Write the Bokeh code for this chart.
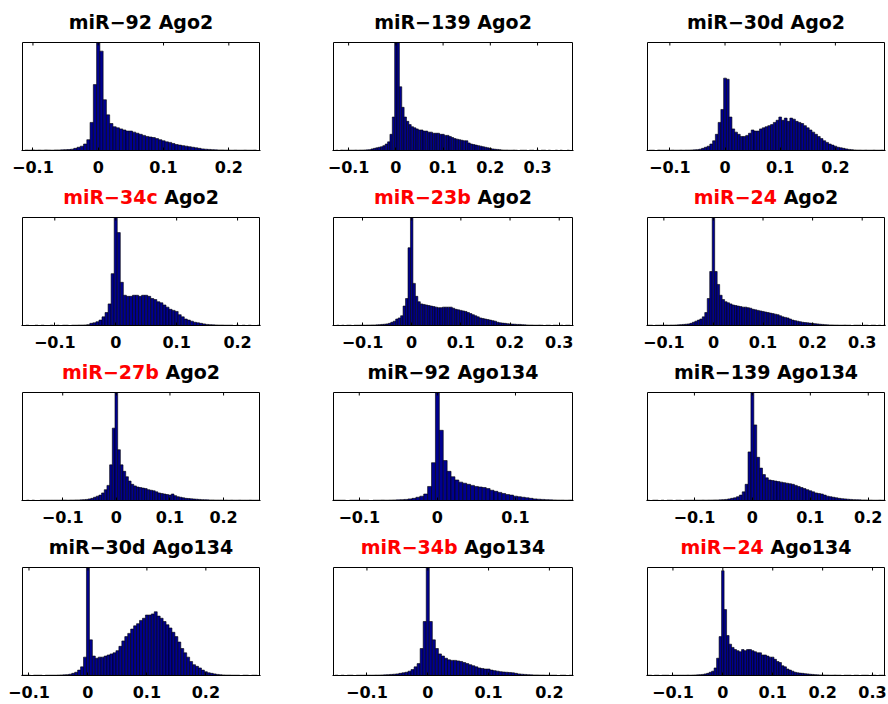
from bokeh.plotting import figure
from bokeh.models import Range1d, FixedTicker
from bokeh.core.properties import value
from bokeh.layouts import column, row
from bokeh.embed import file_html
from bokeh.resources import INLINE

# ---------------- data ----------------
TITLE_RED = ["", "", "", "miR\u221234c", "miR\u221223b", "miR\u221224",
             "miR\u221227b", "", "", "", "miR\u221234b", "miR\u221224"]
TITLE_BLACK = ["miR\u221292 Ago2", "miR\u2212139 Ago2", "miR\u221230d Ago2", "Ago2", "Ago2", "Ago2",
               "Ago2", "miR\u221292 Ago134", "miR\u2212139 Ago134", "miR\u221230d Ago134", "Ago134", "Ago134"]
XLIMS = [(-0.116, 0.247), (-0.132, 0.374), (-0.1405, 0.289),
         (-0.153, 0.236), (-0.159, 0.327), (-0.133, 0.345),
         (-0.175, 0.267), (-0.133, 0.173), (-0.181, 0.228),
         (-0.111, 0.291), (-0.155, 0.238), (-0.151, 0.324)]
TICKS = [[-0.1, 0, 0.1, 0.2], [-0.1, 0, 0.1, 0.2, 0.3], [-0.1, 0, 0.1, 0.2],
         [-0.1, 0, 0.1, 0.2], [-0.1, 0, 0.1, 0.2, 0.3], [-0.1, 0, 0.1, 0.2, 0.3],
         [-0.1, 0, 0.1, 0.2], [-0.1, 0, 0.1], [-0.1, 0, 0.1, 0.2],
         [-0.1, 0, 0.1, 0.2], [-0.1, 0, 0.1, 0.2], [-0.1, 0, 0.1, 0.2, 0.3]]
TICK_TEXT = {-0.1: "\u22120.1", 0: "0", 0.1: "0.1", 0.2: "0.2", 0.3: "0.3"}
BIN_START = [-0.110, -0.125, -0.135, -0.150, -0.155, -0.130,
             -0.170, -0.130, -0.180, -0.110, -0.150, -0.150]
BIN_WIDTH = 0.005
Y_MAX = 100

H1 = [0.4, 0.3, 0.5, 0.3, 0.4, 0.3, 0.5, 0.4, 0.3, 0.5, 0.5, 0.6, 0.8, 0.9,
      1.2, 2, 3, 4, 6, 10, 26, 61,
      100, 92, 47, 33, 25, 22, 21, 20, 19, 18,
      18, 17, 16, 15, 14, 13, 12.5, 12, 11, 10,
      9, 8, 7.5, 6.5, 5.5, 5, 4.5, 4, 3.5, 3,
      2.5, 2, 1.5, 1.2, 1,
      0.8, 0.6, 0.5, 0.5, 0.4, 0.4, 0.3, 0.4, 0.3, 0.3, 0.4, 0.3, 0.3, 0.4]
H2 = [0.3, 0, 0.4, 0.3, 0.3, 0.4, 0.3, 0.3, 0.4, 0.3, 0.4, 0.4, 0.5, 0.6, 0.8,
      1.5, 2, 2.5, 3, 3.5, 4.5, 6, 8, 15, 31,
      100, 100, 59, 40, 31, 27, 24, 22, 21, 20,
      19, 19, 18, 18, 17, 17, 16, 16, 16, 15,
      15, 14, 14, 13, 12, 11, 10.5, 10, 9.5, 9,
      9, 7, 6, 5.5, 5, 4.5, 4, 3.5, 3, 2.5,
      2, 1.5, 1.2, 1, 0.8,
      0.5, 0.4, 0.4, 0.3, 0.3, 0.4, 0.3, 0, 0.3, 0.3,
      0.3, 0, 0.3, 0.3, 0, 0.3, 0, 0.3, 0.3, 0,
      0.3, 0, 0, 0.3, 0, 0.3, 0, 0, 0.3, 0]
H3 = [0.3, 0.3, 0, 0.4, 0.3, 0.3, 0.3, 0.3, 0.4, 0.3, 0.3, 0.4, 0.3, 0.4, 0.4, 0.5, 0.6, 0.8,
      1.2, 2, 3, 4, 6, 9, 15, 26, 38,
      67, 66, 31, 20, 17, 15, 13, 13, 14, 16,
      19, 18, 18, 20, 21, 22, 23, 24, 26, 28,
      31, 28, 30, 27, 30, 29, 27, 26, 25, 23,
      21, 19, 17, 15, 13, 11, 9, 7.5, 6, 5,
      4, 3, 2.5, 2, 1.5, 1, 0.8,
      0.5, 0.4, 0.4, 0.3, 0.4, 0.3, 0.3, 0.4, 0.3, 0.3, 0.4]
H4 = [0, 0.3, 0, 0, 0.3, 0, 0.3, 0, 0, 0.3, 0, 0.3, 0, 0.3, 0.3, 0, 0.3, 0.3, 0.4, 0.4, 0.5, 0.8,
      2, 2.5, 3.5, 5, 8, 12, 20, 48,
      100, 86, 40, 28, 27, 27, 28, 28, 27, 28,
      28, 27, 25, 24, 22, 21, 19, 17, 15, 14,
      13, 10, 8, 6, 5, 4, 3, 2.5, 2, 1.5, 1,
      0.8, 0.6, 0.5, 0.4, 0.4, 0.3, 0.3, 0.3, 0, 0.3, 0, 0.3, 0, 0.3, 0, 0, 0.3]
H5 = [0, 0.3, 0, 0.3, 0, 0.3, 0.3, 0, 0.3, 0.3, 0.3, 0.4, 0.3, 0.4, 0.4, 0.5, 0.5, 0.6, 0.8, 1, 1.2,
      1.5, 2, 3, 4, 6, 7, 9, 18, 25, 72,
      100, 39, 27, 22, 20, 19.5, 19, 18.5, 18, 17.5,
      17, 16.5, 16.5, 17, 17, 17, 17, 16, 15, 14.5,
      14, 13.5, 13, 12, 11, 10, 9, 8, 7, 6.5,
      6, 5.5, 5, 4.5, 4, 3, 2.5, 2.2, 2, 1.7,
      1.5, 1.3, 1.2, 1, 1,
      0.8, 0.6, 0.5, 0.4, 0.4, 0.3, 0.3, 0.4, 0.3, 0, 0.3, 0.3, 0, 0.3, 0.3, 0, 0.3, 0, 0.3, 0.3, 0]
H6 = [0.3, 0.3, 0, 0.3, 0.3, 0.3, 0.3, 0.4, 0.3, 0.4, 0.4, 0.5, 0.6, 0.8, 1, 1.2,
      1.5, 2, 3, 4, 5, 6, 8, 12, 25, 50,
      100, 50, 38, 28, 24, 22, 21, 20, 19, 18.5,
      18, 17.5, 17, 17, 16.5, 16, 15, 14.5, 14, 13.5,
      13, 12.5, 12, 11.5, 11, 10.5, 10, 9, 8, 7.5,
      7, 6, 5, 4.5, 4, 3.5, 3, 2.7, 2.5, 2.2,
      2, 1.7, 1.5, 1.2, 1,
      0.8, 0.6, 0.5, 0.5, 0.4, 0.4, 0.3, 0.3, 0.4, 0.3, 0.3, 0, 0.3, 0.3, 0.3, 0, 0.3, 0.3, 0,
      0.3, 0.3, 0, 0.3, 0, 0.3]
H7 = [0, 0.3, 0, 0.3, 0, 0, 0.3, 0.3, 0.3, 0.3, 0.3, 0.3, 0.3, 0.3, 0.4, 0.4, 0.3, 0.4, 0.4, 0.5,
      0.5, 0.6, 0.8, 1,
      1.5, 2, 3, 4, 5, 7, 10, 14, 33, 67,
      100, 47, 33, 27, 22, 18, 15, 13.5, 12.5, 12,
      11.5, 11, 10, 9.5, 9, 8, 7, 6.5, 6, 5.5,
      5, 6, 4.5, 3.5, 3, 2.5, 2, 1.8, 1.6, 1.4,
      1.2, 1,
      0.8, 0.7, 0.6, 0.5, 0.5, 0.4, 0.4, 0.4, 0.3, 0.4, 0.3, 0.4, 0.3, 0.3, 0.4, 0.3, 0.3, 0.3,
      0.4, 0.3, 0.3, 0.3]
H8 = [0.3, 0.3, 0.3, 0, 0.3, 0.3, 0.3, 0.3, 0.3, 0, 0.3, 0.3, 0.4, 0.3, 0.4, 0.5, 0.6, 0.8, 1,
      1.5, 2, 3, 4, 6, 13, 35,
      100, 65, 37, 27, 22, 19, 17, 16, 15, 14,
      13, 12.5, 12, 11, 9.5, 8.5, 7.5, 6.5, 5.5, 5,
      4, 3.5, 3, 2.5, 2, 1.5, 1.2, 1,
      0.8, 0.6, 0.5, 0.4, 0.4, 0.3, 0.4]
H9 = [0.3, 0, 0.3, 0.3, 0, 0.3, 0, 0.3, 0.3, 0, 0.3, 0.3, 0, 0.3, 0.3, 0.3, 0.3, 0.3, 0.3, 0.4,
      0.3, 0.4, 0.4, 0.5, 0.5, 0.6, 0.8, 1,
      1.5, 2, 2.5, 3.5, 5, 8, 15, 45,
      100, 70, 40, 30, 24, 21, 19, 18.5, 18, 17.5,
      17, 16.5, 16, 15.5, 15, 14, 13, 12, 11, 10,
      9, 8, 7, 6.5, 6, 5, 4, 3.5, 3, 2.5,
      2, 1.7, 1.5, 1.2, 1,
      0.8, 0.7, 0.6, 0.5, 0.5, 0.4, 0.4, 0.3, 0.3, 0.4, 0.3]
H10 = [0.3, 0.3, 0.3, 0, 0.3, 0.3, 0.3, 0, 0.3, 0.3, 0.3, 0.3, 0.4, 0.5, 0.6,
       0.8, 1.2, 2, 3, 5, 8, 17,
       100, 33, 18, 16, 17, 17, 18, 19, 20, 21,
       23, 27, 32, 36, 39, 43, 46, 48, 51, 53,
       56, 56, 57, 59, 55, 53, 50, 47, 44, 40,
       36, 31, 25, 21, 17, 13, 10, 8.5, 7, 5,
       3.5, 2.5, 2, 1.5, 1,
       0.7, 0.5, 0.4, 0.4, 0.3, 0.3, 0.3, 0, 0.3, 0.3, 0, 0.3, 0.3, 0]
H11 = [0.3, 0, 0.3, 0, 0.3, 0.3, 0, 0.3, 0.3, 0.3, 0.3, 0.3, 0.3, 0.4, 0.4, 0.5, 0.6, 0.8,
       1, 1.2, 1.5, 2, 2.5, 3, 4, 5.5, 8, 11, 25, 50,
       100, 50, 33, 25, 20, 18, 16, 14.5, 14, 14,
       13.5, 13, 12, 11, 10, 9, 8, 7, 6.5, 6,
       6, 5, 4.5, 4, 3.5, 3.2, 3, 2.8, 2.5, 2,
       1.5, 1.2, 1,
       0.8, 0.6, 0.5, 0.5, 0.4, 0.4, 0.3, 0.3, 0.3, 0.3, 0, 0.3, 0.3, 0, 0.3]
H12 = [0.3, 0.3, 0, 0.3, 0.3, 0, 0.3, 0.3, 0.3, 0, 0.3, 0.3, 0.3, 0.3, 0.3, 0.3, 0.4, 0.3, 0.4,
       0.5, 0.6, 0.8, 1,
       1.5, 2, 3, 4, 7, 16, 36,
       97, 61, 37, 29, 26, 24, 23, 22, 24, 23,
       24, 24, 23, 22, 21, 21, 19, 19, 18, 17,
       17, 15, 13, 12, 9, 8, 6, 5, 4, 3,
       2.5, 2.2, 2, 1.7, 1.5, 1.2, 1,
       0.8, 0.6, 0.5, 0.5, 0.4, 0.4, 0.3, 0.3, 0.4, 0.3, 0.3, 0, 0.3, 0.3, 0.3, 0, 0.3, 0.3, 0,
       0.3, 0.3, 0.3, 0, 0.3, 0.3, 0, 0.3, 0.3]
HEIGHTS = [H1, H2, H3, H4, H5, H6, H7, H8, H9, H10, H11, H12]

# ---------------- layout / style ----------------
FONT = "DejaVu Sans"
TITLE_SIZE = 19
TICK_SIZE = "16px"
BAR_FILL = "#00008F"
COL_W = [321, 313, 254]      # figure widths
COL_LEFT = [21, 11, 12]      # border left of the (1px padded) frame
BOX_W = [237, 239, 237]      # visible axes-box width in px
ROW_H = [183, 175, 175, 167]  # figure heights
ROW_TOP = [42, 34, 34, 34]   # space above the axes box (title zone, inside frame)
BOX_H = 108                  # visible axes-box height in px
TITLE_GAP = 21               # title baseline above box, px
TICK_LEN = 3

# DejaVu Sans Bold advance widths (em units), for centering the two-colour titles
ADV = {"m": 1.042, "i": 0.343, "R": 0.770, "\u2212": 0.838, "c": 0.593, "b": 0.716,
       "d": 0.716, " ": 0.348, "A": 0.774, "g": 0.716, "o": 0.687}
for dgt in "0123456789":
    ADV[dgt] = 0.696


def text_w(s):
    return sum(ADV.get(ch, 0.65) for ch in s) * TITLE_SIZE


def make_panel(k):
    r, c = divmod(k, 3)
    xmin, xmax = XLIMS[k]
    w, h = COL_W[c], ROW_H[r]
    px = (xmax - xmin) / BOX_W[c]          # data units per pixel (x)
    py = Y_MAX / BOX_H                      # data units per pixel (y)
    frame_w = BOX_W[c] + 2
    frame_h = ROW_TOP[r] + BOX_H
    p = figure(width=w, height=h, output_backend="svg", toolbar_location=None,
               x_range=Range1d(xmin - px, xmax + px),
               y_range=Range1d(0, Y_MAX * frame_h / BOX_H),
               y_axis_location=None,
               min_border_left=COL_LEFT[c], min_border_right=w - COL_LEFT[c] - frame_w,
               min_border_top=0, min_border_bottom=h - frame_h)
    p.background_fill_color = "white"
    p.border_fill_color = "white"
    p.outline_line_color = None
    p.grid.grid_line_color = None

    hts = HEIGHTS[k]
    centers = [round(BIN_START[k] + i * BIN_WIDTH, 4) for i in range(len(hts))]
    p.vbar(x=centers, top=hts, bottom=0, width=BIN_WIDTH,
           fill_color=BAR_FILL, line_color="black", line_width=0.6)

    # axes box and top tick marks
    p.quad(left=[xmin], right=[xmax], bottom=[0], top=[Y_MAX],
           fill_color=None, line_color="black", line_width=1)
    ticks = TICKS[k]
    p.segment(x0=ticks, x1=ticks, y0=[Y_MAX] * len(ticks),
              y1=[Y_MAX - TICK_LEN * py] * len(ticks), line_color="black", line_width=1)

    ax = p.xaxis[0]
    ax.ticker = FixedTicker(ticks=ticks)
    ax.major_label_overrides = {t: TICK_TEXT[t] for t in ticks}
    ax.major_label_text_font = FONT
    ax.major_label_text_font_style = "bold"
    ax.major_label_text_font_size = TICK_SIZE
    ax.major_label_text_color = "black"
    ax.major_label_standoff = 10
    ax.major_tick_in = TICK_LEN
    ax.major_tick_out = 0
    ax.major_tick_line_color = "black"
    ax.minor_tick_line_color = None
    ax.axis_line_color = "black"

    # titles (red part + black part), centred over the box
    xc = (xmin + xmax) / 2
    y_t = Y_MAX + TITLE_GAP * py
    red, black = TITLE_RED[k], TITLE_BLACK[k]
    style = dict(text_font=value(FONT), text_font_style=value("bold"),
                 text_font_size=value(f"{TITLE_SIZE}px"), text_baseline=value("alphabetic"))
    if red:
        wr, wb, sp = text_w(red), text_w(black), text_w(" ")
        left = -(wr + sp + wb) / 2
        p.text(x=[xc + (left + wr) * px], y=[y_t], text=[red], text_color="#FF0000",
               text_align=value("right"), **style)
        p.text(x=[xc + (left + wr + sp) * px], y=[y_t], text=[black], text_color="black",
               text_align=value("left"), **style)
    else:
        p.text(x=[xc], y=[y_t], text=[black], text_color="black",
               text_align=value("center"), **style)
    return p


panels = [make_panel(k) for k in range(12)]
layout = column(*[row(*panels[3 * r:3 * r + 3]) for r in range(4)])

open("out.html", "w").write(file_html(layout, INLINE))
